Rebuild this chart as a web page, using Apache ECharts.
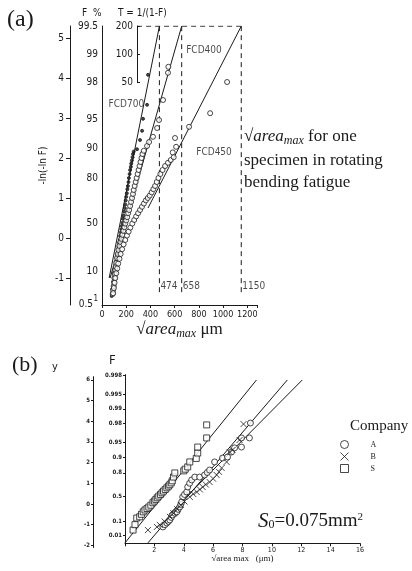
<!DOCTYPE html>
<html>
<head>
<meta charset="utf-8">
<script src="https://cdn.jsdelivr.net/npm/echarts@6/dist/echarts.min.js"></script>
<style>
html, body { margin: 0; padding: 0; background: #fff; }
#chart { width: 412px; height: 571px; }
</style>
</head>
<body>
<div id="chart"></div>
<script>
// ---- (a) sqrt(area_max) distribution, ductile cast irons ----
var fcd700 = [[80,-1.45],[86,-1.36],[84,-1.28],[92,-1.2],[95,-1.1],[98,-1.02],[104,-0.95],[101,-0.86],[110,-0.78],[116,-0.7],
  [113,-0.6],[122,-0.5],[126,-0.42],[132,-0.33],[136,-0.22],[141,-0.12],[148,-0.04],[150,0.05],[156,0.14],[160,0.22],
  [165,0.3],[170,0.38],[172,0.48],[177,0.56],[183,0.66],[188,0.75],[192,0.84],[196,0.94],[200,1.03],[205,1.12],
  [210,1.22],[214,1.3],[219,1.4],[222,1.5],[228,1.6],[232,1.7],[238,1.78],[241,1.86],[247,1.94],[252,2.02],
  [256,2.1],[262,2.16],[289,2.22],[314,2.45],[331,2.68],[339,2.98],[372,3.33],[380,4.08]];
var fcd400 = [[88,-1.4],[92,-1.3],[96,-1.2],[99,-1.1],[102,-1.0],[106,-0.9],[110,-0.8],[114,-0.72],[118,-0.62],[124,-0.5],
  [130,-0.4],[136,-0.3],[144,-0.2],[152,-0.1],[160,-0.02],[168,0.08],[176,0.18],[184,0.27],[192,0.36],[200,0.44],
  [208,0.52],[216,0.62],[224,0.7],[232,0.8],[240,0.9],[248,1.0],[256,1.1],[262,1.2],[270,1.3],[278,1.4],
  [286,1.5],[294,1.6],[302,1.7],[310,1.8],[318,1.9],[326,2.0],[334,2.1],[345,2.18],[372,2.3],[389,2.4],
  [421,2.53],[455,2.75],[471,2.95],[504,3.45],[545,4.13],[548,4.28]];
var fcd450 = [[92,-1.38],[98,-1.25],[104,-1.12],[110,-1.0],[118,-0.88],[126,-0.76],[134,-0.64],[144,-0.52],[154,-0.4],[166,-0.28],
  [178,-0.16],[192,-0.05],[206,0.06],[220,0.16],[234,0.26],[250,0.36],[266,0.45],[282,0.54],[298,0.62],[314,0.7],
  [330,0.78],[346,0.86],[362,0.94],[378,1.0],[394,1.06],[410,1.14],[424,1.22],[438,1.3],[452,1.4],[466,1.5],
  [482,1.6],[500,1.7],[521,1.8],[545,1.88],[568,1.95],[592,2.02],[584,2.14],[612,2.28],[603,2.5],[719,2.78],
  [893,3.12],[1033,3.9]];
// fitted lines (end points)
var line700 = [[59,-1.0],[474,5.296]];
var line400 = [[67,-1.0],[658,5.296]];
var line450 = [[380,0.75],[1150,5.296]];
var dashX = [474, 658, 1150];
var fcdLabels = [[356,3.33,'FCD700','left'],[687,4.7,'FCD400','right'],[770,2.15,'FCD450','right']];
var xTicksA = [0, 200, 400, 600, 800, 1000, 1200];
var fPct = [99.5, 99, 98, 95, 90, 80, 50, 10, 1, 0.5];
var tReturn = [200, 100, 50];
var yVarA = [-1, 0, 1, 2, 3, 4, 5];

// ---- (b) three companies ----
var compS = [[0.55,-1.26],[0.68,-1.0],[0.8,-0.68],[1.0,-0.62],[1.12,-0.5],[1.24,-0.38],[1.36,-0.29],[1.5,-0.22],[1.62,-0.15],[1.76,-0.06],
  [1.9,0.06],[2.0,0.14],[2.1,0.22],[2.2,0.3],[2.3,0.38],[2.42,0.46],[2.52,0.54],[2.62,0.62],[2.74,0.7],[2.85,0.78],
  [2.96,0.86],[3.05,0.93],[3.15,1.02],[3.22,1.12],[3.3,1.3],[3.39,1.5],[4.0,1.6],[4.1,1.68],[4.27,1.79],[4.41,2.03],
  [4.85,2.2],[4.95,2.46],[4.95,2.75],[5.56,3.19],[5.56,3.82]];
var compA = [[2.58,-1.11],[2.72,-1.0],[2.85,-0.92],[2.96,-0.84],[3.05,-0.77],[3.15,-0.65],[3.25,-0.53],[3.4,-0.45],[3.53,-0.38],[3.62,-0.26],
  [3.73,-0.14],[3.8,-0.02],[3.86,0.1],[3.93,0.34],[4.05,0.46],[4.2,0.58],[4.27,0.82],[4.4,1.0],[4.54,1.16],[4.75,1.3],
  [5.08,1.3],[5.42,1.4],[5.6,1.52],[5.76,1.64],[6.1,2.03],[6.64,2.22],[6.98,2.27],[7.25,2.51],[7.46,2.71],[7.93,2.75],
  [7.93,3.19],[8.47,3.19],[8.54,3.91]];
var compB = [[1.56,-1.26],[2.17,-1.11],[2.37,-1.01],[2.7,-0.85],[3.05,-0.62],[3.3,-0.45],[3.55,-0.25],[3.8,-0.05],[4.05,0.12],[4.41,0.34],
  [4.65,0.48],[4.88,0.58],[5.1,0.7],[5.29,0.82],[5.5,0.94],[5.76,1.06],[6.0,1.22],[6.24,1.4],[6.4,1.55],[6.58,1.74],
  [6.92,2.03],[7.12,2.51],[7.32,2.61],[7.8,3.09],[8.07,3.86]];
var lineS = [[0,-1.88],[8.95,5.99]];
var lineA = [[1.56,-1.88],[11.05,5.99]];
var lineB = [[3.0,-0.5],[12.07,5.99]];
var fProb = [0.998, 0.995, 0.99, 0.98, 0.95, 0.9, 0.8, 0.5, 0.1, 0.01];
var yVarB = [-2, -1, 0, 1, 2, 3, 4, 5, 6];

// Gumbel reduced variate
function rv(F) { return -Math.log(-Math.log(F)); }

var fPctPos = fPct.map(function (p) { return rv(p / 100); });
var tPos = tReturn.map(function (t) { return rv(1 - 1 / t); });
var fProbPos = fProb.map(rv);

function lookup(pos, labels) {
  return function (v) {
    for (var i = 0; i < pos.length; i++) {
      if (Math.abs(pos[i] - v) < 1e-6) return labels[i];
    }
    return '';
  };
}

var INK = '#1a1a1a';
var SANS = 'DejaVu Sans Condensed, DejaVu Sans, sans-serif';
var SERIF = 'Liberation Serif, DejaVu Serif, serif';
var lineAx = { show: true, onZero: false, lineStyle: { color: INK, width: 1 } };

var myChart = echarts.init(document.getElementById('chart'));

var fPctLab = lookup(fPctPos, fPct);
var option = {
  animation: false,
  backgroundColor: '#fff',
  grid: [
    { left: 102, top: 26, width: 155, height: 279 },
    { left: 137, top: 26, width: 1, height: 56 },
    { left: 125, top: 374.6, width: 235, height: 168.7 },
    { left: 93, top: 376.7, width: 1, height: 170.8 }
  ],
  xAxis: [
    {
      gridIndex: 0, type: 'value', min: 0, max: 1280, interval: 200,
      axisLine: lineAx, splitLine: { show: false },
      axisTick: { length: 3, lineStyle: { color: INK } },
      axisLabel: { color: INK, fontSize: 9, fontFamily: SANS, margin: 5,
        formatter: function (v) { return xTicksA.indexOf(v) >= 0 ? String(v) : ''; } },
      name: '√{i|area}{sub|max} μm', nameLocation: 'middle', nameGap: 15,
      nameTextStyle: { color: INK, fontSize: 17, fontFamily: SERIF,
        rich: { i: { fontStyle: 'italic', fontSize: 17, fontFamily: SERIF },
                sub: { fontStyle: 'italic', fontSize: 12, fontFamily: SERIF, padding: [8, 0, 0, 0] } } }
    },
    { gridIndex: 1, show: false, min: 0, max: 1 },
    {
      gridIndex: 2, type: 'value', min: 0, max: 16, interval: 2,
      axisLine: lineAx, splitLine: { show: false },
      axisTick: { length: 3, lineStyle: { color: INK } },
      axisLabel: { color: INK, fontSize: 7, fontFamily: SANS, margin: 3,
        formatter: function (v) { return v === 0 ? '' : String(v); } },
      name: '√area max   (μm)', nameLocation: 'middle', nameGap: 9,
      nameTextStyle: { color: INK, fontSize: 9, fontFamily: SERIF }
    },
    { gridIndex: 3, show: false, min: 0, max: 1 }
  ],
  yAxis: [
    {
      gridIndex: 0, type: 'value', min: -1.675, max: 5.3,
      axisLine: lineAx, splitLine: { show: false },
      axisTick: { show: false },
      axisLabel: { customValues: fPctPos, color: INK, fontSize: 10, fontFamily: SANS, margin: 4,
        formatter: function (v) {
          var s = fPctLab(v);
          if (s === 0.5) return '{lo|0.5}';
          if (s === 1) return '{sup|1}';
          return String(s);
        },
        rich: { lo: { fontSize: 10, fontFamily: SANS, color: INK, padding: [0, 5, 0, 0] },
                sup: { fontSize: 8, fontFamily: SANS, color: INK } } }
    },
    {
      gridIndex: 0, type: 'value', min: -1.675, max: 5.3, position: 'left', offset: 32,
      axisLine: lineAx, splitLine: { show: false },
      axisTick: { customValues: yVarA, length: 4, lineStyle: { color: INK } },
      axisLabel: { customValues: yVarA, color: INK, fontSize: 10, fontFamily: SANS, margin: 6 },
      name: '-ln(-ln F)', nameLocation: 'middle', nameRotate: 90, nameGap: 22,
      nameTextStyle: { color: INK, fontSize: 10, fontFamily: SANS }
    },
    {
      gridIndex: 1, type: 'value', min: rv(0.98), max: rv(0.995),
      axisLine: lineAx, splitLine: { show: false },
      axisTick: { customValues: tPos, inside: true, length: 3, lineStyle: { color: INK } },
      axisLabel: { customValues: tPos, color: INK, fontSize: 10, fontFamily: SANS, margin: 4,
        formatter: lookup(tPos, tReturn) }
    },
    {
      gridIndex: 2, type: 'value', min: -1.9, max: 6.25,
      axisLine: lineAx, splitLine: { show: false },
      axisTick: { customValues: fProbPos, length: 2, lineStyle: { color: INK } },
      axisLabel: { customValues: fProbPos, color: INK, fontSize: 6, fontWeight: 'bold', fontFamily: SANS, margin: 3,
        formatter: lookup(fProbPos, fProb) }
    },
    {
      gridIndex: 3, type: 'value', min: -2.1, max: 6.15,
      axisLine: lineAx, splitLine: { show: false },
      axisTick: { customValues: yVarB, length: 2, lineStyle: { color: INK } },
      axisLabel: { customValues: yVarB, color: INK, fontSize: 6, fontWeight: 'bold', fontFamily: SANS, margin: 3 }
    }
  ],
  legend: {
    orient: 'vertical', left: 335, top: 435, itemWidth: 8, itemHeight: 8, itemGap: 3,
    selectedMode: false,
    textStyle: { color: INK, fontSize: 8, fontFamily: SERIF, padding: [0, 0, 0, 17] },
    data: [
      { name: 'A', icon: 'circle', itemStyle: { color: '#fff', borderColor: INK, borderWidth: 1 } },
      { name: 'B', icon: 'path://M0,0L10,10M10,0L0,10', itemStyle: { color: INK, borderColor: INK, borderWidth: 1 } },
      { name: 'S', icon: 'rect', itemStyle: { color: '#fff', borderColor: INK, borderWidth: 1 } }
    ]
  },
  graphic: [
    { type: 'text', left: 7, top: 8, style: { text: '(a)', font: '24px ' + SERIF, fill: INK } },
    { type: 'text', left: 82, top: 8, style: { text: 'F  %', font: '10px ' + SANS, fill: INK } },
    { type: 'text', left: 118, top: 8, style: { text: 'T = 1/(1-F)', font: '10px ' + SANS, fill: INK } },
    { type: 'text', left: 244, top: 128, style: { text: '√{i|area}{sub|max} for one', font: '17px ' + SERIF, fill: INK,
        rich: { i: { fontStyle: 'italic', fontSize: 17, fontFamily: SERIF }, sub: { fontStyle: 'italic', fontSize: 12, fontFamily: SERIF, padding: [8, 0, 0, 0] } } } },
    { type: 'text', left: 244, top: 152, style: { text: 'specimen in rotating', font: '17px ' + SERIF, fill: INK } },
    { type: 'text', left: 244, top: 174, style: { text: 'bending fatigue', font: '17px ' + SERIF, fill: INK } },
    { type: 'text', left: 12, top: 354, style: { text: '(b)', font: '22px ' + SERIF, fill: INK } },
    { type: 'text', left: 52, top: 362, style: { text: 'y', font: '11px ' + SANS, fill: INK } },
    { type: 'text', left: 109, top: 354, style: { text: 'F', font: '13px ' + SANS, fill: INK } },
    { type: 'text', left: 350, top: 419, style: { text: 'Company', font: '15px ' + SERIF, fill: INK } },
    { type: 'text', left: 258, top: 511, style: { text: '{s|S}{sub|0}=0.075mm{sup|2}', font: '19px ' + SERIF, fill: INK,
        rich: { s: { fontStyle: 'italic', fontSize: 21, fontFamily: SERIF }, sub: { fontSize: 12, fontFamily: SERIF, padding: [6, 0, 0, 0] },
                sup: { fontSize: 11, fontFamily: SERIF, padding: [0, 0, 8, 0] } } } }
  ],
  series: []
};

function scat(name, data, sym, size, filled, xi) {
  return {
    name: name, type: 'scatter', xAxisIndex: xi, yAxisIndex: xi === 0 ? 0 : 3, data: data,
    symbol: sym, symbolSize: size,
    itemStyle: filled ? { color: INK, borderColor: INK, borderWidth: 1 } : { color: '#fff', borderColor: INK, borderWidth: 1 }
  };
}
function fitLine(data, xi, dashed) {
  return {
    type: 'line', xAxisIndex: xi, yAxisIndex: xi === 0 ? 0 : 3, data: data, symbol: 'none',
    lineStyle: { color: INK, width: 1, type: dashed ? [5, 4] : 'solid' }, silent: true, z: 1
  };
}

// (a)
option.series.push(fitLine(line700, 0), fitLine(line400, 0), fitLine(line450, 0));
option.series.push(fitLine([[290, 5.296], [1150, 5.296]], 0, true));
dashX.forEach(function (x) { option.series.push(fitLine([[x, 5.296], [x, -1.45]], 0, true)); });
option.series.push(scat('FCD700', fcd700, 'circle', 3, true, 0));
option.series.push(scat('FCD400', fcd400, 'circle', 5, false, 0));
option.series.push(scat('FCD450', fcd450, 'circle', 5, false, 0));
option.series.push({
  type: 'scatter', xAxisIndex: 0, yAxisIndex: 0, symbolSize: 0, silent: true,
  data: dashX.map(function (x) { return [x, -1.22, String(x)]; }),
  label: { show: true, position: 'right', distance: 1, formatter: function (p) { return p.data[2]; },
    color: INK, fontSize: 10, fontFamily: SANS }
});
fcdLabels.forEach(function (l) {
  option.series.push({
    type: 'scatter', xAxisIndex: 0, yAxisIndex: 0, symbolSize: 0, silent: true,
    data: [[l[0], l[1]]],
    label: { show: true, position: l[3], distance: 1, formatter: l[2], color: INK, fontSize: 10, fontFamily: SANS }
  });
});

// (b)
option.series.push(fitLine(lineS, 2), fitLine(lineA, 2), fitLine(lineB, 2));
option.series.push(scat('S', compS, 'rect', 6, false, 2));
option.series.push(scat('A', compA, 'circle', 6, false, 2));
option.series.push(scat('B', compB, 'path://M0,0L10,10M10,0L0,10', 6, true, 2));

myChart.setOption(option);
</script>
</body>
</html>
